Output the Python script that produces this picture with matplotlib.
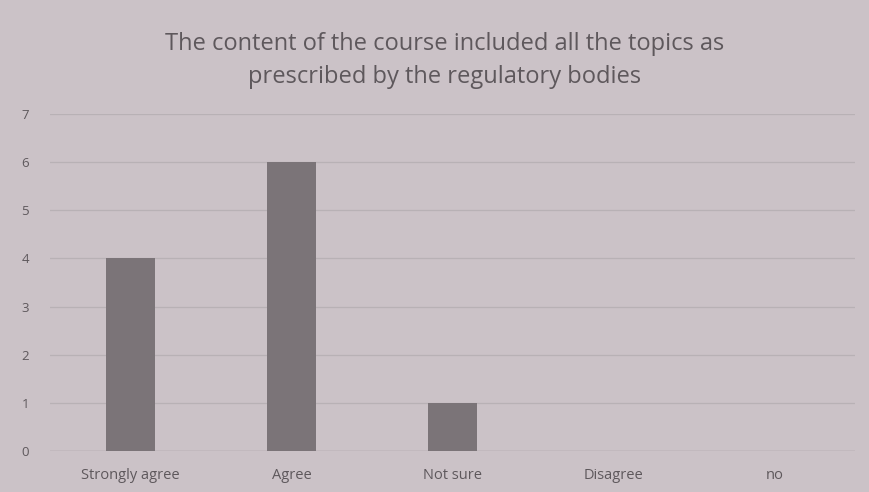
import matplotlib
matplotlib.use('Agg')
import matplotlib.pyplot as plt
import numpy as np

# survey answers
categories = ['Strongly agree', 'Agree', 'Not sure', 'Disagree', 'no']
counts = [4, 6, 1, 0, 0]
yticks = [0, 1, 2, 3, 4, 5, 6, 7]
title = 'The content of the course included all the topics as\nprescribed by the regulatory bodies'

bg = '#cbc2c7'
bar_color = '#7b7478'
text_color = '#5e585c'

plt.rcParams['font.family'] = ['Open Sans', 'DejaVu Sans']

fig = plt.figure(figsize=(8.69, 4.92), dpi=100)
fig.patch.set_facecolor(bg)
ax = fig.add_axes([0.0575, 0.0833, 0.9265, 0.685])
ax.set_facecolor(bg)

x = np.arange(len(categories))
ax.bar(x, counts, width=0.31, color=bar_color, zorder=3)

ax.set_xlim(-0.5, len(categories) - 0.5)
ax.set_ylim(0, 7)
ax.set_yticks(yticks)
ax.set_yticklabels([str(v) for v in yticks], fontsize=9.5, color=text_color)
ax.set_xticks(x)
ax.set_xticklabels(categories, fontsize=10.5, color=text_color)
ax.tick_params(length=0, pad=12)
ax.tick_params(axis='y', pad=15)

ax.grid(axis='y', color='#b8b1b5', linewidth=0.9, zorder=0)
for s in ax.spines.values():
    s.set_visible(False)
ax.axhline(0, color='#aca5a9', linewidth=1.0, zorder=2)

fig.text(0.512, 0.877, title, ha='center', va='center', fontsize=17,
         color=text_color, linespacing=1.45)

fig.savefig('out.png', dpi=100, facecolor=bg)
